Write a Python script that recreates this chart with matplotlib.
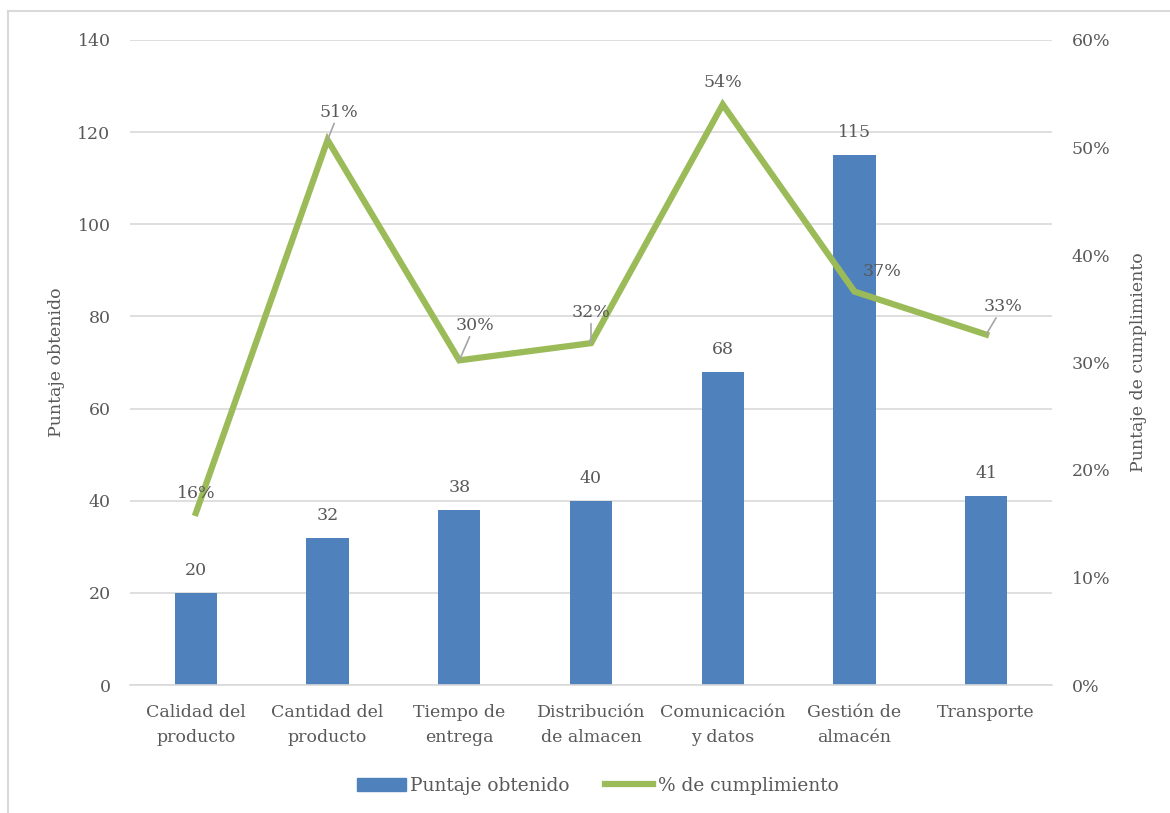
import numpy as np
import matplotlib.pyplot as plt
from matplotlib.lines import Line2D
from matplotlib.ticker import FuncFormatter, MultipleLocator

categorias = [
    "Calidad del\nproducto",
    "Cantidad del\nproducto",
    "Tiempo de\nentrega",
    "Distribución\nde almacen",
    "Comunicación\ny datos",
    "Gestión de\nalmacén",
    "Transporte",
]
puntaje = [20, 32, 38, 40, 68, 115, 41]
cumplimiento = [0.160, 0.507, 0.302, 0.318, 0.540, 0.366, 0.326]

# offsets (points) of the percentage labels, Excel-style with leader lines
pct_offsets = [(0, 8), (8, 14), (11, 19), (0, 16), (0, 10), (20, 8), (12, 14)]
leaders = [False, True, True, True, False, False, True]

AZUL = "#4F81BD"
VERDE = "#9BBB59"
TEXTO = "#595959"
GRID = "#D9D9D9"
FS = 12.5

plt.rcParams["font.family"] = ["DejaVu Serif"]
plt.rcParams["font.size"] = FS

fig = plt.figure(figsize=(11.7, 8.13), dpi=100)
ax = fig.add_axes([130 / 1170, 1 - 685 / 813, 922 / 1170, 645 / 813])
ax2 = ax.twinx()

x = np.arange(len(categorias))
ax.bar(x, puntaje, width=0.32, color=AZUL, zorder=2, label="Puntaje obtenido")
for xi, v in zip(x, puntaje):
    ax.annotate(str(v), (xi, v), xytext=(0, 10), textcoords="offset points",
                ha="center", va="bottom", color=TEXTO, fontsize=FS)

ax.set_xlim(-0.5, len(categorias) - 0.5)
ax.set_ylim(0, 140)
ax.yaxis.set_major_locator(MultipleLocator(20))
ax.grid(axis="y", color=GRID, linewidth=1.2, zorder=0)
ax.set_axisbelow(True)
ax.set_xticks(x)
ax.set_xticklabels(categorias, color=TEXTO, fontsize=FS, linespacing=1.6)
ax.tick_params(axis="both", length=0, colors=TEXTO, labelsize=FS)
ax.tick_params(axis="x", pad=14)
ax.tick_params(axis="y", pad=14)
ax.set_ylabel("Puntaje obtenido", color=TEXTO, fontsize=FS, labelpad=9)

ax2.plot(x, cumplimiento, color=VERDE, linewidth=4.5, solid_joinstyle="miter",
         zorder=3, label="% de cumplimiento")
ax2.set_ylim(0, 0.6)
ax2.yaxis.set_major_locator(MultipleLocator(0.1))
ax2.yaxis.set_major_formatter(FuncFormatter(lambda v, _: f"{v * 100:.0f}%"))
ax2.tick_params(axis="y", length=0, colors=TEXTO, labelsize=FS, pad=14)
ax2.set_ylabel("Puntaje de cumplimiento", color=TEXTO, fontsize=FS, labelpad=14)

for xi, v, off, lead in zip(x, cumplimiento, pct_offsets, leaders):
    props = dict(arrowstyle="-", color="#A6A6A6", lw=1.2, shrinkA=0, shrinkB=0) if lead else None
    ax2.annotate(f"{v * 100:.0f}%", (xi, v), xytext=off, textcoords="offset points",
                 ha="center", va="bottom", color=TEXTO, fontsize=FS,
                 arrowprops=props)

for a in (ax, ax2):
    for s in a.spines.values():
        s.set_visible(False)
ax.spines["bottom"].set_visible(True)
ax.spines["bottom"].set_color(GRID)
ax.spines["bottom"].set_linewidth(1.2)

handles = [
    plt.Rectangle((0, 0), 1, 1, color=AZUL),
    Line2D([0], [0], color=VERDE, linewidth=4.5),
]
fig.legend(handles, ["Puntaje obtenido", "% de cumplimiento"],
           loc="center", bbox_to_anchor=(598 / 1170, 1 - 786 / 813), ncol=2,
           frameon=False, fontsize=13.4, labelcolor=TEXTO, handlelength=2.6,
           handletextpad=0.25, columnspacing=1.9)

# chart-area border
fig.add_artist(Line2D([8 / 1170, 8 / 1170], [0, 1 - 11 / 813], color=GRID,
                      linewidth=1.5, transform=fig.transFigure))
fig.add_artist(Line2D([8 / 1170, 1], [1 - 11 / 813, 1 - 11 / 813], color=GRID,
                      linewidth=1.5, transform=fig.transFigure))

fig.savefig("out.png", dpi=100, facecolor="white")
